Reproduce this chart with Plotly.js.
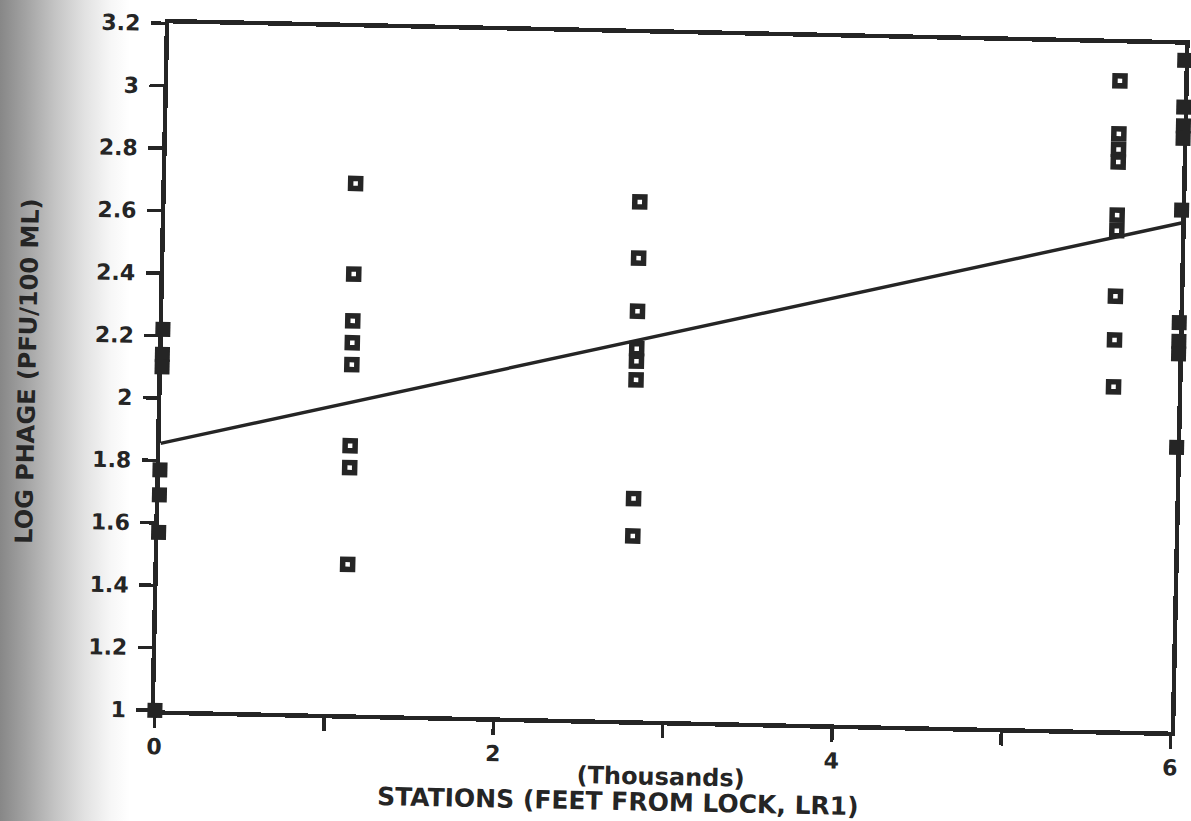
<!DOCTYPE html>
<html>
<head>
<meta charset="utf-8">
<script src="https://cdn.plot.ly/plotly-3.0.1.min.js"></script>
<style>
  html, body { margin: 0; padding: 0; width: 1191px; height: 821px; overflow: hidden; }
  body {
    background: linear-gradient(to right, #878787 0px, #a2a2a2 25px, #c4c4c4 55px, #e2e2e2 85px, #f6f6f6 110px, #ffffff 130px);
  }
  #chart {
    position: absolute; left: 0; top: 0; width: 1191px; height: 821px;
    transform-origin: 670px 377px;
    transform: rotate(1.2deg);
  }
</style>
</head>
<body>
<div id="chart"></div>
<script>
// Station positions along the river (thousands of feet from lock LR1)
const stationX = [0, 1.12, 2.80, 5.62, 6.0];

// Log phage counts (PFU/100 mL) observed at each station
const phageAtLock = [2.22, 2.14, 2.10, 1.77, 1.69, 1.57, 1.00];
const phageStation1 = [2.70, 2.41, 2.26, 2.19, 2.12, 1.86, 1.79, 1.48];
const phageStation2 = [2.66, 2.48, 2.31, 2.19, 2.15, 2.09, 1.71, 1.59];
const phageStation3 = [3.08, 2.91, 2.86, 2.82, 2.65, 2.60, 2.39, 2.25, 2.10];
const phageStation4 = [3.15, 3.00, 2.94, 2.90, 2.67, 2.31, 2.25, 2.21, 1.91];

// Least-squares trend line: log phage = intercept + slope * station
const fitIntercept = 1.855;
const fitSlope = 0.129;
const fitX = [0, 6];

// Axis ticks
const xTickVals = [0, 1, 2, 3, 4, 5, 6];
const xTickText = ['0', '', '2', '', '4', '', '6'];
const yTickVals = [1, 1.2, 1.4, 1.6, 1.8, 2, 2.2, 2.4, 2.6, 2.8, 3, 3.2];
const yTickText = ['1', '1.2', '1.4', '1.6', '1.8', '2', '2.2', '2.4', '2.6', '2.8', '3', '3.2'];

const ink = '#252525';
const fontFamily = '"DejaVu Sans", "Liberation Sans", sans-serif';

const groups = [phageAtLock, phageStation1, phageStation2, phageStation3, phageStation4];

// Interior stations: open squares; samples sitting on the frame edges
// merge with the heavy axis line and print as solid blocks.
const traces = groups.map((vals, i) => {
  const onEdge = (i === 0 || i === groups.length - 1);
  return {
    x: vals.map(() => stationX[i]),
    y: vals,
    type: 'scatter',
    mode: 'markers',
    cliponaxis: false,
    marker: onEdge
      ? { symbol: 'square', size: 15, color: ink, line: { width: 0 } }
      : { symbol: 'square-open', size: 10, color: ink, line: { width: 5.5, color: ink } },
    hoverinfo: 'x+y'
  };
});

const trend = {
  x: fitX,
  y: fitX.map(x => fitIntercept + fitSlope * x),
  type: 'scatter',
  mode: 'lines',
  cliponaxis: false,
  line: { color: ink, width: 3.4 },
  hoverinfo: 'skip'
};

const layout = {
  width: 1191,
  height: 821,
  margin: { l: 162, r: 13, t: 34, b: 100 },
  paper_bgcolor: 'rgba(0,0,0,0)',
  plot_bgcolor: 'rgba(0,0,0,0)',
  showlegend: false,
  font: { family: fontFamily, color: ink },
  xaxis: {
    range: [0, 6],
    tickvals: xTickVals,
    ticktext: xTickText,
    ticks: 'outside',
    ticklen: 13,
    tickwidth: 3.5,
    tickcolor: ink,
    showline: true,
    linewidth: 4.5,
    linecolor: ink,
    mirror: true,
    showgrid: false,
    zeroline: false,
    tickfont: { family: fontFamily, size: 22, weight: 'bold', color: ink },
    ticklabelstandoff: 0
  },
  yaxis: {
    range: [1, 3.2],
    tickvals: yTickVals,
    ticktext: yTickText,
    ticks: 'outside',
    ticklen: 14,
    tickwidth: 3.5,
    tickcolor: ink,
    showline: true,
    linewidth: 4.5,
    linecolor: ink,
    mirror: true,
    showgrid: false,
    zeroline: false,
    tickfont: { family: fontFamily, size: 22, weight: 'bold', color: ink },
    ticklabelstandoff: 6
  },
  annotations: [
    {
      text: 'LOG PHAGE (PFU/100 ML)',
      xref: 'paper', yref: 'paper',
      x: -0.132, y: 0.49,
      xanchor: 'center', yanchor: 'middle',
      textangle: -90,
      showarrow: false,
      font: { family: fontFamily, size: 24, weight: 'bold', color: ink }
    },
    {
      text: '(Thousands)',
      xref: 'paper', yref: 'paper',
      x: 0.499, y: -0.081,
      xanchor: 'center', yanchor: 'middle',
      showarrow: false,
      font: { family: fontFamily, size: 24, weight: 'bold', color: ink }
    },
    {
      text: 'STATIONS (FEET FROM LOCK, LR1)',
      xref: 'paper', yref: 'paper',
      x: 0.458, y: -0.118,
      xanchor: 'center', yanchor: 'middle',
      showarrow: false,
      font: { family: fontFamily, size: 25, weight: 'bold', color: ink }
    }
  ]
};

Plotly.newPlot('chart', [trend].concat(traces), layout, { displayModeBar: false, staticPlot: true });
</script>
</body>
</html>
